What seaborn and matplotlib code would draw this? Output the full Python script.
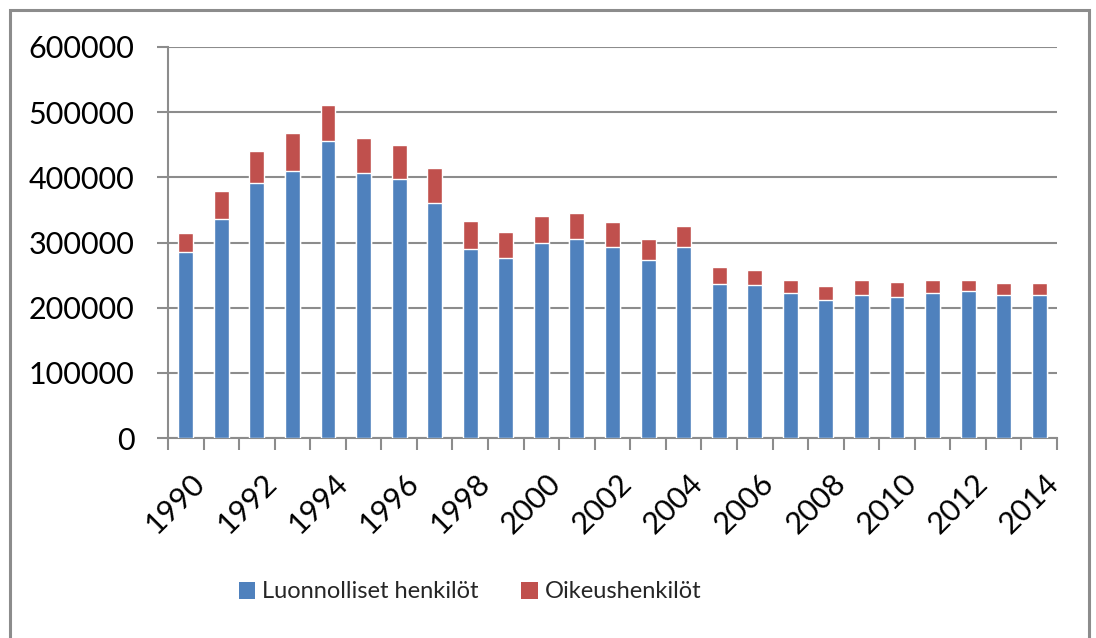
import matplotlib
matplotlib.use("Agg")
import matplotlib.pyplot as plt
import matplotlib.transforms as mtransforms
import seaborn as sns
import pandas as pd
import numpy as np
from matplotlib.patches import Rectangle, Patch

years = list(range(1990, 2015))
luonnolliset = [285000, 336000, 392000, 410000, 455000, 407000, 397000, 361000,
                290000, 276000, 299000, 305000, 293000, 273000, 293000, 237000,
                235000, 222000, 212000, 219000, 217000, 222000, 225000, 219000, 219000]
oikeushenkilot = [30000, 43000, 48000, 58000, 56000, 53000, 53000, 54000,
                  43000, 40000, 42000, 41000, 38000, 33000, 33000, 25000,
                  23000, 20000, 21000, 23000, 23000, 20000, 17000, 19000, 19000]
series_names = ["Luonnolliset henkilöt", "Oikeushenkilöt"]
colors = ["#4F81BD", "#C0504D"]
y_ticks = [0, 100000, 200000, 300000, 400000, 500000, 600000]

sns.set_theme(style="white")
plt.rcParams['font.family'] = ['Lato', 'DejaVu Sans']

df = pd.DataFrame({"year": [str(y) for y in years],
                   "blue": luonnolliset, "red": oikeushenkilot})
df["total"] = df["blue"] + df["red"]

W, H = 1096, 638
fig = plt.figure(figsize=(W / 100, H / 100), dpi=100)
ax = fig.add_axes([168 / W, 1 - 438 / H, (1057 - 168) / W, (438 - 47) / H])

sns.barplot(data=df, x="year", y="total", color=colors[1], width=0.42,
            saturation=1, ax=ax, zorder=2)
sns.barplot(data=df, x="year", y="blue", color=colors[0], width=0.42,
            saturation=1, ax=ax, zorder=3)

ax.set_xlim(-0.5, len(years) - 0.5)
ax.set_ylim(0, 600000)
ax.set_yticks(y_ticks)
ax.set_yticklabels([str(v) for v in y_ticks])
ax.set_xlabel("")
ax.set_ylabel("")

gray = "#8C8C8C"
ax.yaxis.grid(True, color=gray, lw=1.5, zorder=0)
ax.xaxis.grid(False)
ax.set_axisbelow(True)
for s in ["top", "right"]:
    ax.spines[s].set_visible(False)
for s in ["left", "bottom"]:
    ax.spines[s].set_color(gray)
    ax.spines[s].set_linewidth(1.5)

ax.set_xticks(range(len(years)))
ax.set_xticklabels([str(y) if i % 2 == 0 else "" for i, y in enumerate(years)])
ax.set_xticks(np.arange(-0.5, len(years), 1), minor=True)
ax.tick_params(axis="x", which="major", length=0, pad=22, labelsize=22, labelcolor="black")
ax.tick_params(axis="x", which="minor", length=8.5, width=1.5, color=gray, bottom=True)
ax.tick_params(axis="y", which="major", length=8, width=1.5, color=gray, left=True,
               pad=16, labelsize=22, labelcolor="black")
offset = mtransforms.ScaledTranslation(5 / 100, 0, fig.dpi_scale_trans)
for lab in ax.get_xticklabels():
    lab.set_rotation(45)
    lab.set_ha("right")
    lab.set_va("top")
    lab.set_rotation_mode("anchor")
    lab.set_transform(lab.get_transform() + offset)

handles = [Patch(facecolor=colors[0], edgecolor="none"),
           Patch(facecolor=colors[1], edgecolor="none")]
fig.legend(handles, series_names, loc="center", bbox_to_anchor=(470 / W, 1 - 592 / H),
           ncol=2, frameon=False, fontsize=17, handlelength=0.7, handleheight=0.7,
           handletextpad=0.3, columnspacing=1.8)

fig.add_artist(Rectangle((10 / W, -0.1), (1089 - 10) / W, 1.1 - 10 / H,
                         transform=fig.transFigure, fill=False, ec=gray, lw=2.2))

fig.savefig("out.png", dpi=100, facecolor="white")
